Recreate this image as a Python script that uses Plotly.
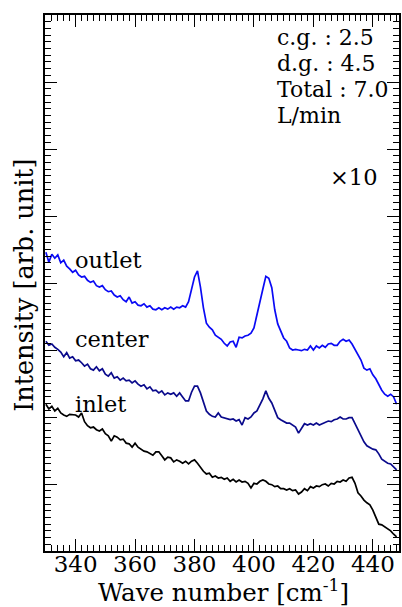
import plotly.graph_objects as go

wavenumber = list(range(330, 449))

outlet = [
    4.46, 4.31, 4.43, 4.37, 4.42, 4.30, 4.34, 4.25, 4.21, 4.16,
    4.19, 4.12, 4.09, 4.10, 4.04, 4.01, 4.03, 3.96, 3.94, 3.96,
    3.90, 3.87, 3.88, 3.82, 3.79, 3.81, 3.75, 3.72, 3.79, 3.70,
    3.72, 3.67, 3.66, 3.69, 3.64, 3.66, 3.61, 3.60, 3.63, 3.60,
    3.63, 3.61, 3.64, 3.61, 3.64, 3.63, 3.66, 3.64, 3.72, 3.90,
    4.09, 4.18, 3.94, 3.63, 3.40, 3.34, 3.30, 3.22, 3.19, 3.16,
    3.10, 3.06, 3.12, 3.13, 3.04, 3.19, 3.18, 3.21, 3.22, 3.25,
    3.33, 3.51, 3.70, 3.91, 4.10, 4.07, 3.93, 3.60, 3.39, 3.27,
    3.18, 3.13, 3.03, 3.00, 3.01, 3.00, 2.99, 3.01, 3.00, 3.06,
    3.00, 3.06, 3.03, 3.07, 3.04, 3.09, 3.10, 3.07, 3.07, 3.13,
    3.16, 3.13, 3.15, 3.09, 3.01, 2.94, 2.85, 2.73, 2.70, 2.72,
    2.63, 2.57, 2.48, 2.40, 2.34, 2.31, 2.34, 2.30, 2.19,
]

center = [
    3.13, 3.07, 3.09, 3.04, 3.01, 2.97, 2.90, 2.96, 2.88, 2.90,
    2.84, 2.85, 2.81, 2.76, 2.79, 2.72, 2.70, 2.75, 2.69, 2.72,
    2.64, 2.61, 2.66, 2.58, 2.60, 2.55, 2.58, 2.54, 2.55, 2.51,
    2.54, 2.49, 2.46, 2.48, 2.42, 2.45, 2.39, 2.40, 2.36, 2.39,
    2.33, 2.36, 2.34, 2.36, 2.31, 2.36, 2.30, 2.24, 2.24, 2.37,
    2.46, 2.46, 2.36, 2.21, 2.09, 2.04, 2.01, 2.00, 2.06, 2.00,
    1.99, 1.97, 1.96, 1.97, 1.94, 1.96, 1.88, 1.99, 1.97, 2.00,
    2.06, 2.09, 2.18, 2.27, 2.39, 2.28, 2.21, 2.10, 1.99, 1.96,
    1.93, 1.91, 1.91, 1.88, 1.85, 1.76, 1.84, 1.90, 1.88, 1.90,
    1.88, 1.91, 1.88, 1.90, 1.91, 1.94, 1.93, 1.96, 1.97, 2.00,
    1.97, 1.97, 1.99, 1.99, 1.90, 1.81, 1.72, 1.63, 1.57, 1.54,
    1.52, 1.51, 1.45, 1.37, 1.34, 1.31, 1.30, 1.25, 1.21,
]

inlet = [
    2.19, 2.12, 2.16, 2.09, 2.13, 2.06, 2.03, 2.01, 2.04, 2.03,
    2.03, 2.00, 2.06, 1.93, 1.87, 1.84, 1.85, 1.81, 1.79, 1.82,
    1.75, 1.72, 1.64, 1.72, 1.70, 1.66, 1.67, 1.61, 1.60, 1.55,
    1.61, 1.55, 1.52, 1.49, 1.48, 1.45, 1.43, 1.48, 1.48, 1.42,
    1.36, 1.40, 1.39, 1.33, 1.36, 1.34, 1.31, 1.34, 1.30, 1.34,
    1.36, 1.31, 1.24, 1.19, 1.15, 1.16, 1.10, 1.12, 1.09, 1.10,
    1.07, 1.09, 1.04, 1.07, 1.03, 1.06, 1.03, 1.04, 1.01, 0.94,
    1.01, 1.00, 1.04, 1.06, 1.04, 1.00, 0.99, 0.96, 0.97, 0.93,
    0.93, 0.91, 0.93, 0.90, 0.91, 0.85, 0.88, 0.93, 0.90, 0.96,
    0.94, 0.97, 0.96, 0.99, 1.00, 0.97, 1.01, 1.00, 1.04, 1.03,
    1.06, 1.04, 1.09, 1.10, 1.01, 0.87, 0.82, 0.76, 0.72, 0.69,
    0.61, 0.49, 0.40, 0.39, 0.36, 0.34, 0.30, 0.25, 0.21,
]

series_names = ["outlet", "center", "inlet"]
series_colors = ["#0a0af5", "#0a0a8c", "#000000"]
series_values = [outlet, center, inlet]

FONT = "DejaVu Serif"

fig = go.Figure()
for name, color, vals in zip(series_names, series_colors, series_values):
    fig.add_trace(go.Scatter(x=wavenumber, y=vals, mode="lines", name=name,
                             line=dict(color=color, width=1.7), showlegend=False))

label_pos = {"outlet": 4.34, "center": 3.16, "inlet": 2.19}
for name in series_names:
    fig.add_annotation(x=339.1, y=label_pos[name], xref="x", yref="y", text=name,
                       showarrow=False, xanchor="left", yanchor="middle",
                       font=dict(family=FONT, size=22.5, color="black"))

info_lines = ["c.g. : 2.5", "d.g. : 4.5", "Total : 7.0", "L/min"]
info_y = [7.67, 7.28, 6.89, 6.50]
for t, yv in zip(info_lines, info_y):
    fig.add_annotation(x=407.2, y=yv, xref="x", yref="y", text=t, showarrow=False,
                       xanchor="left", yanchor="middle",
                       font=dict(family=FONT, size=22, color="black"))

fig.add_annotation(x=425.0, y=5.58, xref="x", yref="y", text="×10", showarrow=False,
                   xanchor="left", yanchor="middle",
                   font=dict(family=FONT, size=22.5, color="black"))

fig.add_annotation(x=-0.059, y=0.495, xref="paper", yref="paper",
                   text="Intensity [arb. unit]", textangle=-90, showarrow=False,
                   xanchor="center", yanchor="middle",
                   font=dict(family=FONT, size=25.5, color="black"))
fig.add_annotation(x=0.5056, y=-0.075, xref="paper", yref="paper",
                   text="Wave number [cm<sup>-1</sup>]", showarrow=False,
                   xanchor="center", yanchor="middle",
                   font=dict(family=FONT, size=24.5, color="black"))

axis_common = dict(showline=True, linecolor="black", linewidth=1.5, mirror="allticks",
                   ticks="inside", ticklen=12, tickwidth=1.3, tickcolor="black",
                   showgrid=False, zeroline=False)

fig.update_layout(
    width=402, height=607,
    margin=dict(l=45, r=1, t=15, b=56, pad=0),
    paper_bgcolor="white", plot_bgcolor="white",
    font=dict(family=FONT, size=22, color="black"),
    xaxis=dict(range=[329.7, 448.8], dtick=20, tick0=340,
               tickfont=dict(family=FONT, size=23, color="black"),
               ticklabelstandoff=-8,
               minor=dict(dtick=2, ticks="inside", ticklen=6, tickwidth=1.2,
                          tickcolor="black", showgrid=False),
               **axis_common),
    yaxis=dict(range=[0, 8], dtick=1, tick0=0, showticklabels=False,
               minor=dict(dtick=0.1, ticks="inside", ticklen=6, tickwidth=1.2,
                          tickcolor="black", showgrid=False),
               **axis_common),
)

fig.write_html("out.html")
